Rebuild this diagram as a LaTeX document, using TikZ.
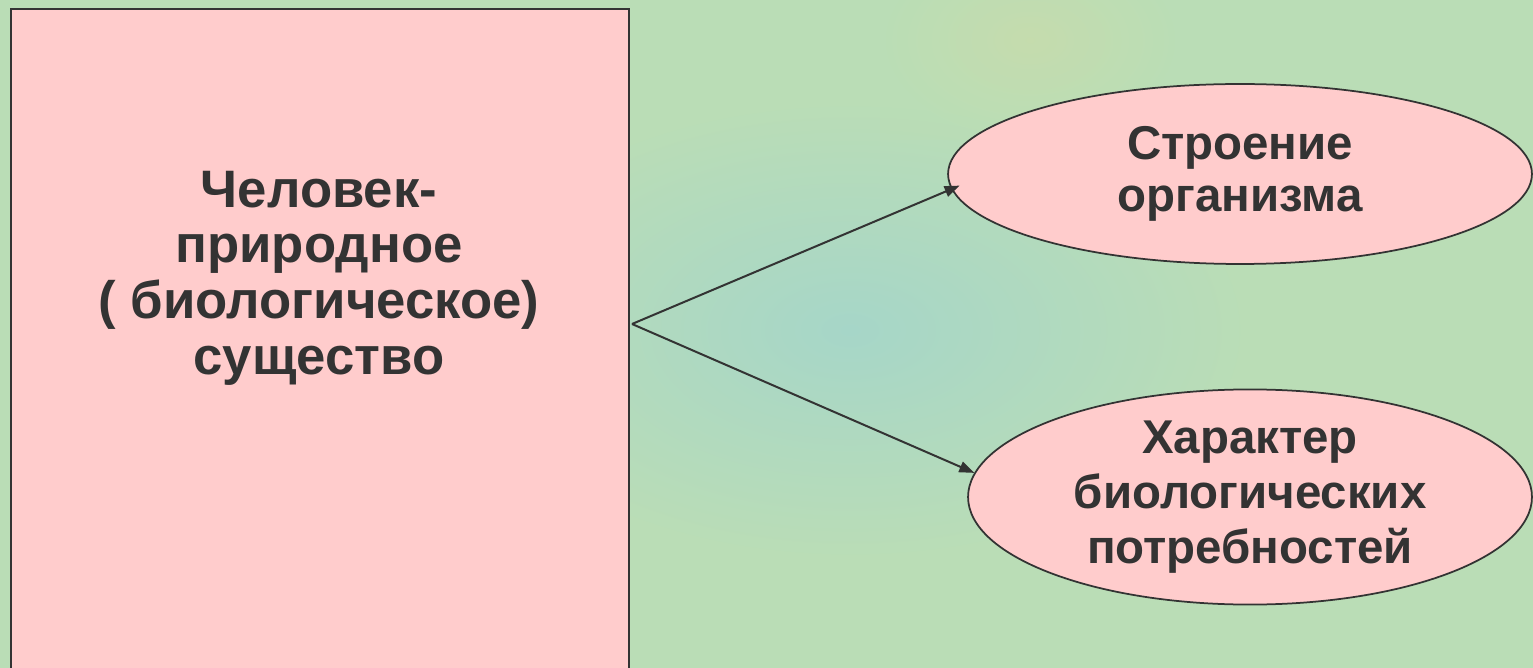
\documentclass[tikz,border=0pt]{standalone}
\usepackage{fontspec}
\setmainfont{Liberation Sans}
\usetikzlibrary{shapes.geometric,arrows.meta}

\definecolor{rose}{HTML}{FFCCCC}
\definecolor{ink}{HTML}{333333}
\definecolor{meadow}{HTML}{BADDB6}
\definecolor{lagoon}{HTML}{A6D6C8}
\definecolor{straw}{HTML}{CDDCA8}

\tikzset{
	plate/.style={draw=ink, line width=0.04cm, fill=rose, rectangle, inner sep=0pt},
	oval/.style={draw=ink, line width=0.035cm, fill=rose, ellipse, inner sep=0pt,
		text=ink, align=center, font=\bfseries\fontsize{27}{29.5}\selectfont},
	words/.style={text=ink, align=center, font=\bfseries\fontsize{30}{31.7}\selectfont},
	link/.style={draw=ink, line width=0.04cm, -{Triangle[length=0.3cm,width=0.22cm]}}
}

\begin{document}
\begin{tikzpicture}[x=0.02cm,y=-0.02cm]
	\useasboundingbox (0,0) rectangle (1533,668);
	\clip (0,0) rectangle (1533,668);

	% background
	\fill[meadow] (0,0) rectangle (1533,668);
	\shade[inner color=lagoon, outer color=meadow] (450,100) rectangle (1250,560);
	\shade[inner color=straw, outer color=meadow, opacity=0.6] (880,-60) rectangle (1180,140);

	% box
	\node[plate, anchor=north west, minimum width=12.36cm, minimum height=14cm] (being) at (10,8) {};
	\node[words] (beingtext) at (319,278) {Человек-\\природное\\( биологическое)\\существо};

	% ovals
	\node[oval, minimum width=11.68cm, minimum height=3.6cm] (structure) at (1240,174) {Строение\\организма};
	\node[oval, minimum width=11.28cm, minimum height=4cm, font=\bfseries\fontsize{27}{31.2}\selectfont] (needs) at (1250,497) {Характер\\биологических\\потребностей};

	% arrows
	\coordinate (fork) at (632,324);
	\draw[link, shorten >=-0.18cm] (fork) -- (structure.183);
	\draw[link] (fork) -- (needs.175);
\end{tikzpicture}
\end{document}
